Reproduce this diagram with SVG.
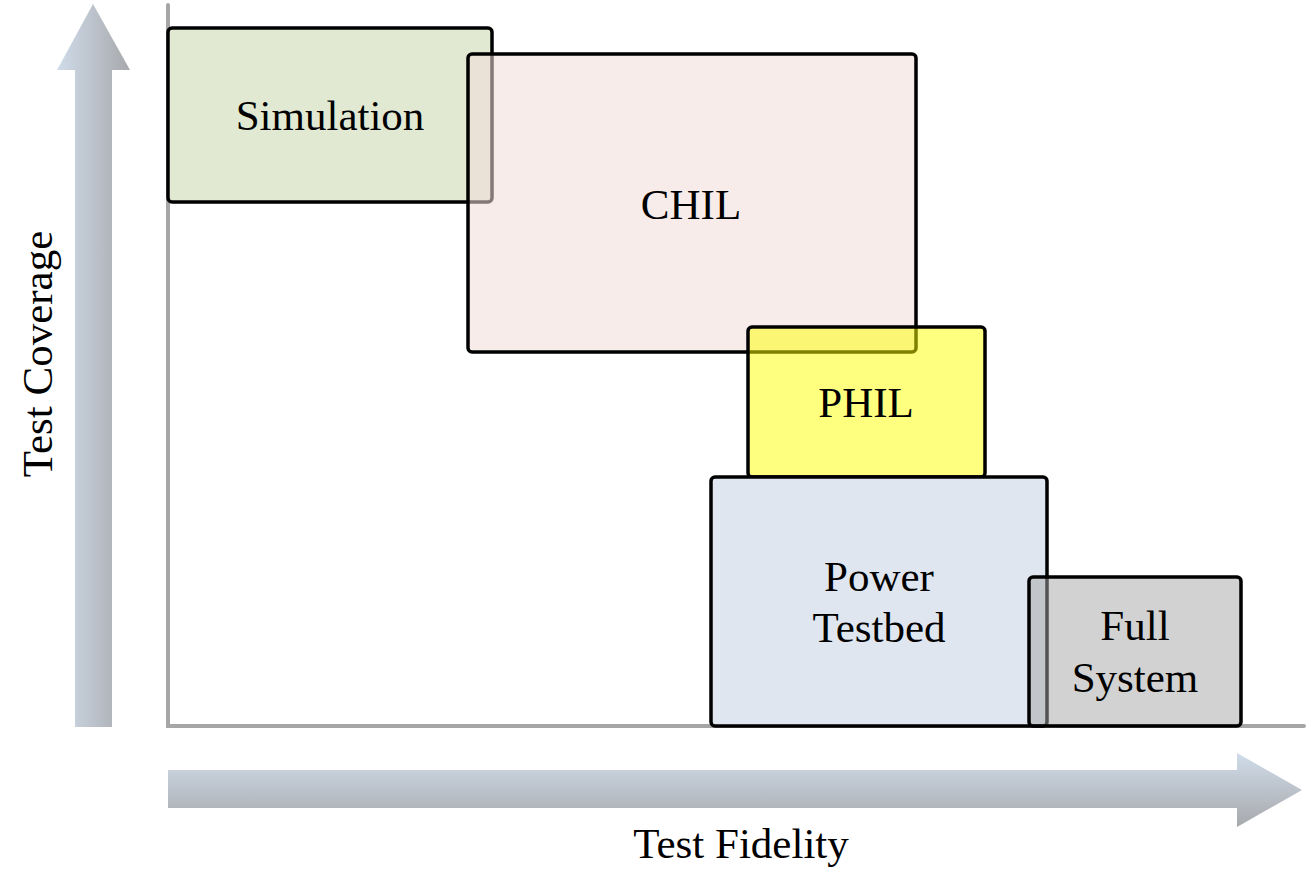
<svg xmlns="http://www.w3.org/2000/svg" width="1308" height="892" viewBox="0 0 1308 892">
<defs>
<linearGradient id="gv" x1="0" y1="0" x2="1" y2="0">
<stop offset="0" stop-color="#d0dcea"/>
<stop offset="1" stop-color="#a7a9ac"/>
</linearGradient>
<linearGradient id="gh" x1="0" y1="0" x2="0" y2="1">
<stop offset="0" stop-color="#d0dcea"/>
<stop offset="1" stop-color="#a7a9ac"/>
</linearGradient>
<style>
.box{stroke:#000;stroke-width:3.5}
.lbl{font-family:"Liberation Serif","Times New Roman",serif;font-size:43px;fill:#000;text-anchor:middle}
.axis{stroke:#a6a6a6;stroke-width:4;stroke-linecap:round;fill:none}
</style>
</defs>
<g id="axes">
<polygon points="93,4 130,70 112,70 112,727 75,727 75,70 57,70" fill="url(#gv)"/>
<polygon points="168,770 1237,770 1237,753 1302,790 1237,827 1237,808 168,808" fill="url(#gh)"/>
<polyline class="axis" points="168,5 168,726 1304,726"/>
<text class="lbl" x="741" y="858">Test Fidelity</text>
<text class="lbl" transform="translate(52,354) rotate(-90)">Test Coverage</text>
</g>
<g id="simulation">
<rect class="box" x="168" y="28" width="324" height="174" rx="4" fill="#e1e9d2"/>
<text class="lbl" x="330" y="130">Simulation</text>
</g>
<g id="chil">
<rect class="box" x="468" y="54" width="448" height="298" rx="4" fill="#f2dcdb" fill-opacity="0.55"/>
<text class="lbl" x="691" y="219">CHIL</text>
</g>
<g id="phil">
<rect class="box" x="748" y="327" width="237" height="150" rx="4" fill="#ffff00" fill-opacity="0.5"/>
<text class="lbl" x="866" y="417">PHIL</text>
</g>
<g id="power">
<rect class="box" x="711" y="477" width="336" height="249" rx="4" fill="#dfe6f0"/>
<text class="lbl" x="879" y="591">Power</text>
<text class="lbl" x="879" y="642">Testbed</text>
</g>
<g id="full">
<rect class="box" x="1029" y="577" width="212" height="149" rx="4" fill="#a6a6a6" fill-opacity="0.5"/>
<text class="lbl" x="1135" y="640">Full</text>
<text class="lbl" x="1135" y="692">System</text>
</g>
</svg>
